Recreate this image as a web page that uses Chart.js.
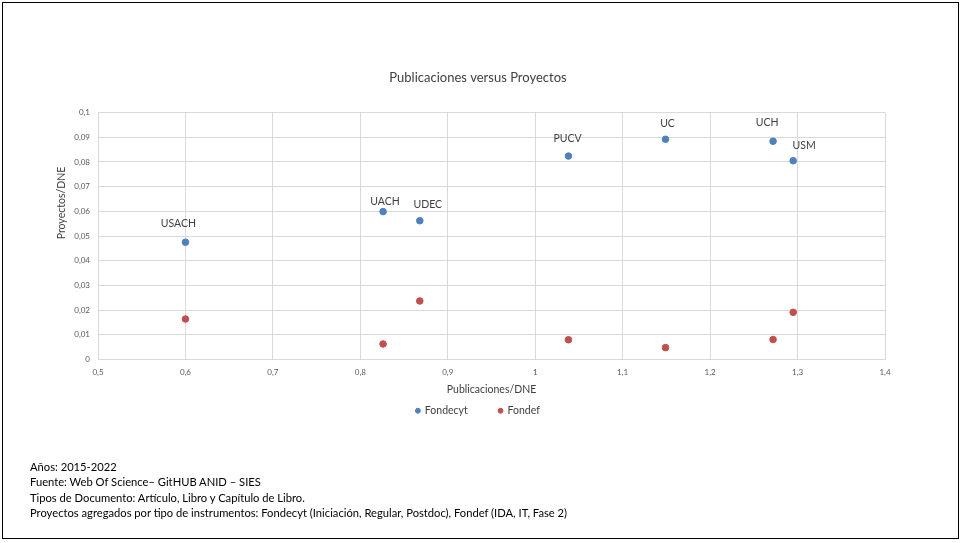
<!DOCTYPE html>
<html>
<head>
<meta charset="utf-8">
<script src="https://cdn.jsdelivr.net/npm/chart.js@4"></script>
<style>
  body { margin: 0; background: #fff; }
  #wrap { position: relative; width: 964px; height: 543px; }
  #frame { position: absolute; left: 2px; top: 2px; width: 957px; height: 537px; border: 1px solid #000; box-sizing: border-box; pointer-events: none; }
  #notes { position: absolute; left: 30px; top: 459px; font-family: Lato, "Open Sans", sans-serif; font-size: 11.2px; line-height: 15.3px; color: #000; }
</style>
</head>
<body>
<div id="wrap">
  <canvas id="chart" width="964" height="543"></canvas>
  <div id="frame"></div>
  <div id="notes">
    <div>Años: 2015-2022</div>
    <div>Fuente: Web Of Science– GitHUB ANID – SIES</div>
    <div>Tipos de Documento: Artículo, Libro y Capítulo de Libro.</div>
    <div>Proyectos agregados por tipo de instrumentos: Fondecyt (Iniciación, Regular, Postdoc), Fondef (IDA, IT, Fase 2)</div>
  </div>
</div>
<script>
// -------------------------------
// Data
// -------------------------------
const universidades = ["USACH", "UACH", "UDEC", "PUCV", "UC", "UCH", "USM"];
const publicaciones = [0.600, 0.826, 0.868, 1.038, 1.149, 1.272, 1.295];
const fondecyt = [0.0475, 0.0599, 0.0562, 0.0824, 0.0892, 0.0884, 0.0805];
const fondef = [0.0164, 0.0063, 0.0237, 0.0080, 0.0048, 0.0081, 0.0191];

// label nudges (px) so names sit like in the original
const labelOffsets = [[-7, -19], [2, -10], [8, -16], [-1, -17], [2, -16], [-6, -19], [11, -15]];

const FONT = "Lato, 'Open Sans', sans-serif";

function fmt(v) {
  return Number(v.toFixed(2)).toString().replace(".", ",");
}

// -------------------------------
// Plugins
// -------------------------------
const labelsPlugin = {
  id: "pointLabels",
  afterDatasetsDraw(chart) {
    const ctx = chart.ctx;
    const meta = chart.getDatasetMeta(0);
    ctx.save();
    ctx.font = "10.5px " + FONT;
    ctx.fillStyle = "#404040";
    ctx.textAlign = "center";
    ctx.textBaseline = "middle";
    meta.data.forEach((pt, i) => {
      const off = labelOffsets[i];
      ctx.fillText(universidades[i], pt.x + off[0], pt.y + off[1]);
    });

    // y axis title
    ctx.translate(62, 203);
    ctx.rotate(-Math.PI / 2);
    ctx.font = "10.5px " + FONT;
    ctx.fillStyle = "#404040";
    ctx.fillText("Proyectos/DNE", 0, 0);
    ctx.restore();
  }
};

// -------------------------------
// Chart
// -------------------------------
new Chart(document.getElementById("chart"), {
  type: "scatter",
  data: {
    datasets: [
      {
        label: "Fondecyt",
        data: publicaciones.map((x, i) => ({ x: x, y: fondecyt[i] })),
        backgroundColor: "#4F81BD",
        borderColor: "#4F81BD",
        pointRadius: 3.3,
        pointHoverRadius: 3.3
      },
      {
        label: "Fondef",
        data: publicaciones.map((x, i) => ({ x: x, y: fondef[i] })),
        backgroundColor: "#C0504D",
        borderColor: "#C0504D",
        pointRadius: 3.3,
        pointHoverRadius: 3.3
      }
    ]
  },
  options: {
    responsive: false,
    animation: false,
    layout: { padding: { left: 71, right: 79, top: 0, bottom: 117 } },
    plugins: {
      title: {
        display: true,
        text: "Publicaciones versus Proyectos",
        color: "#404040",
        font: { family: FONT, size: 13, weight: "normal" },
        padding: { top: 70, bottom: 27 }
      },
      legend: {
        position: "bottom",
        labels: {
          usePointStyle: true,
          pointStyle: "circle",
          boxWidth: 3.5,
          boxHeight: 3.5,
          padding: 10,
          color: "#404040",
          font: { family: FONT, size: 10.5 },
          // widen the gap between the two entries, as in the original
          generateLabels(chart) {
            const items = Chart.defaults.plugins.legend.labels.generateLabels(chart);
            items.forEach((it, i) => {
              if (i < items.length - 1) it.text = it.text + "\u2003\u2003\u2002";
            });
            return items;
          }
        }
      },
      tooltip: { enabled: false }
    },
    scales: {
      x: {
        min: 0.5,
        max: 1.4,
        ticks: {
          stepSize: 0.1,
          color: "#595959",
          font: { family: FONT, size: 8 },
          padding: 8,
          callback: v => fmt(v)
        },
        grid: { color: "#d9d9d9", drawTicks: false },
        border: { color: "#d9d9d9" },
        title: {
          display: true,
          text: "Publicaciones/DNE",
          color: "#404040",
          font: { family: FONT, size: 10.5 },
          padding: { top: 0, bottom: 0 }
        },
        afterFit(scale) { scale.height = 36; }
      },
      y: {
        min: 0,
        max: 0.1,
        ticks: {
          stepSize: 0.01,
          color: "#595959",
          font: { family: FONT, size: 8 },
          padding: 8,
          callback: v => fmt(v)
        },
        grid: { color: "#d9d9d9", drawTicks: false },
        border: { color: "#d9d9d9" },
        afterFit(scale) { scale.width = 27; }
      }
    }
  },
  plugins: [labelsPlugin]
});
</script>
</body>
</html>
